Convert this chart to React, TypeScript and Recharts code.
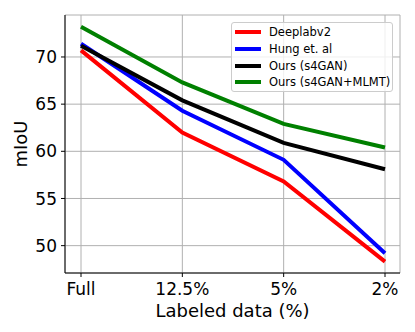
import { LineChart, Line, XAxis, YAxis, CartesianGrid } from 'recharts'

const LABELS = ['Full', '12.5%', '5%', '2%']
const DEEPLAB = [70.7, 62.0, 56.8, 48.3]
const HUNG = [71.4, 64.3, 59.1, 49.2]
const S4GAN = [71.2, 65.4, 60.9, 58.1]
const S4GAN_MLMT = [73.2, 67.3, 62.9, 60.4]
const Y_TICKS = [50, 55, 60, 65, 70]

const SERIES = [
  { key: 'deeplab', name: 'Deeplabv2', color: '#ff0000', values: DEEPLAB },
  { key: 'hung', name: 'Hung et. al', color: '#0000ff', values: HUNG },
  { key: 's4gan', name: 'Ours (s4GAN)', color: '#000000', values: S4GAN },
  { key: 'mlmt', name: 'Ours (s4GAN+MLMT)', color: '#008000', values: S4GAN_MLMT },
]

const data = LABELS.map((label, i) => {
  const row: Record<string, string | number> = { label }
  SERIES.forEach(s => { row[s.key] = s.values[i] })
  return row
})

const FONT = 'DejaVu Sans, sans-serif'
const tickStyle = { fontSize: 17, fill: '#000', fontFamily: FONT }

// legend drawn as an overlay so it doesn't eat into the plot area
function LegendBox() {
  return (
    <div style={{
      position: 'absolute', left: 231, top: 22, width: 162, height: 70,
      border: '1px solid #cccccc', borderRadius: 3,
      background: 'rgba(255,255,255,0.8)', fontFamily: FONT, fontSize: 11.5, color: '#000',
      padding: '1px 0 0 0', boxSizing: 'border-box', whiteSpace: 'nowrap',
    }}>
      {SERIES.map(s => (
        <div key={s.key} style={{ display: 'flex', alignItems: 'center', height: 16.7 }}>
          <div style={{ width: 26, height: 4, background: s.color, marginLeft: 3, marginRight: 8 }} />
          <span>{s.name}</span>
        </div>
      ))}
    </div>
  )
}

export default function App() {
  return (
    <div style={{ position: 'absolute', left: 0, top: 0, width: 415, height: 332, background: '#fff' }}>
      <LineChart width={415} height={332} data={data} margin={{ top: 15, right: 15, left: 0, bottom: 0 }}>
        <CartesianGrid stroke="#b0b0b0" strokeWidth={1} />
        <XAxis
          dataKey="label"
          height={59}
          padding={{ left: 16, right: 15 }}
          tick={tickStyle}
          tickSize={4}
          tickMargin={6}
          stroke="#000"
          interval={0}
          label={{
            content: (props: any) => {
              const vb = props.viewBox
              return (
                <text x={vb.x + vb.width / 2} y={317} textAnchor="middle" fontSize={18} fontFamily={FONT} fill="#000">
                  Labeled data (%)
                </text>
              )
            },
          }}
        />
        <XAxis xAxisId="top" orientation="top" dataKey="label" height={0} tick={false} tickLine={false} stroke="#000" padding={{ left: 16, right: 15 }} />
        <YAxis
          width={65}
          domain={[47.1, 74.45]}
          ticks={Y_TICKS}
          allowDataOverflow
          tick={tickStyle}
          tickSize={4}
          tickMargin={4}
          stroke="#000"
          label={{
            content: (props: any) => {
              const vb = props.viewBox
              const cy = vb.y + vb.height / 2
              return (
                <text x={20} y={cy} transform={`rotate(-90, 20, ${cy})`} textAnchor="middle" dominantBaseline="central" fontSize={18} fontFamily={FONT} fill="#000">
                  mIoU
                </text>
              )
            },
          }}
        />
        <YAxis yAxisId="right" orientation="right" width={0} domain={[47.1, 74.45]} tick={false} tickLine={false} stroke="#000" />
        {SERIES.map(s => (
          <Line
            key={s.key}
            dataKey={s.key}
            name={s.name}
            stroke={s.color}
            strokeWidth={4}
            dot={false}
            type="linear"
            isAnimationActive={false}
          />
        ))}
      </LineChart>
      <LegendBox />
    </div>
  )
}
